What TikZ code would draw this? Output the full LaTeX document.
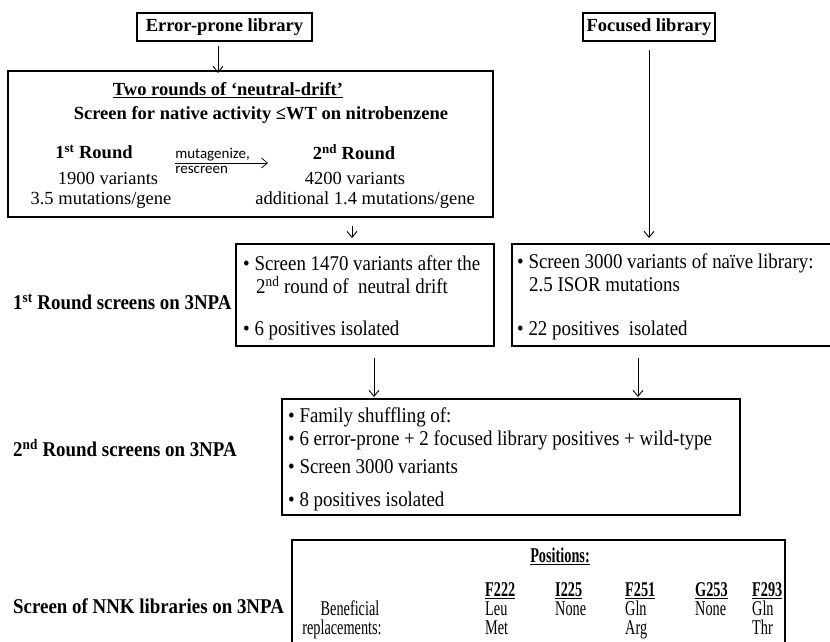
\documentclass[tikz,border=0pt]{standalone}
\usepackage{fontspec}
\setmainfont{Liberation Serif}
\newfontfamily\narrowfont{Liberation Serif}[FakeStretch=0.9]
\newfontfamily\tightfont{Liberation Serif}[FakeStretch=0.68]
\newfontfamily\calfont{Carlito}
\usetikzlibrary{arrows.meta}

\begin{document}
\begin{tikzpicture}[x=1pt,y=-1pt]
    \tikzset{
      box/.style={draw,line width=1.6pt,inner sep=0pt,outer sep=0pt},
      txt/.style={inner sep=0pt,font=\fontsize{18.5}{21}\selectfont},
      btxt/.style={inner sep=0pt,font=\fontsize{18.5}{21}\selectfont\bfseries},
      ntxt/.style={inner sep=0pt,anchor=west,font=\narrowfont\fontsize{21}{24}\selectfont},
      nbtxt/.style={inner sep=0pt,anchor=west,font=\narrowfont\fontsize{21}{24}\selectfont\bfseries},
      ttxt/.style={inner sep=0pt,anchor=west,text height=10pt,text depth=3pt,font=\tightfont\fontsize{21}{22}\selectfont},
      tbtxt/.style={inner sep=0pt,anchor=west,text height=12pt,text depth=3pt,font=\tightfont\fontsize{21}{22}\selectfont\bfseries},
      arr/.style={-{Straight Barb[length=6pt,width=10pt]},line width=0.9pt}
    }
    \useasboundingbox (0,0) rectangle (830,642);
    \clip (0,0) rectangle (830,642);

        %LIBRARIES
        \node[box,btxt,minimum width=175pt,minimum height=28pt] (ep) at (224.5,27) {Error-prone library};
        \node[box,btxt,minimum width=132pt,minimum height=28pt] (fl) at (649,27) {Focused library};

        %NEUTRAL DRIFT
        \node[box,minimum width=485pt,minimum height=146pt] (drift) at (250.5,144) {};
        \node[btxt] (title) at (228,90) {\underline{Two rounds of ‘neutral-drift’}};
        \node[btxt] (scr) at (261,115) {Screen for native activity ≤WT on nitrobenzene};
        \node[btxt] (r1) at (94,152) {1\textsuperscript{st} Round};
        \node[txt] (v1) at (108,178) {1900 variants};
        \node[txt] (m1) at (101,200) {3.5 mutations/gene};
        \node[btxt] (r2) at (354,152) {2\textsuperscript{nd} Round};
        \node[txt] (v2) at (355,178) {4200 variants};
        \node[txt] (m2) at (365,200) {additional 1.4 mutations/gene};
        \coordinate (mstart) at (175,163);
        \coordinate (mend) at (268,163);
        \draw[arr,line width=0.7pt] (mstart) -- (mend)
          node[pos=0,anchor=south west,inner xsep=0pt,inner ysep=1.5pt,font=\calfont\fontsize{15}{17}\selectfont] (mut) {mutagenize,}
          node[pos=0,anchor=north west,inner xsep=0pt,inner ysep=2.5pt,font=\calfont\fontsize{15}{17}\selectfont] (resc) {rescreen};

        %FIRST ROUND
        \node[nbtxt] (lab1) at (13,302) {1\textsuperscript{st} Round screens on 3NPA};
        \node[box,minimum width=258pt,minimum height=102pt] (s1) at (365,295) {};
        \node[ntxt] (s1a) at (243,263) {• Screen 1470 variants after the};
        \node[ntxt] (s1b) at (256,285) {2\textsuperscript{nd} round of\ \ neutral drift};
        \node[ntxt] (s1c) at (243,330) {• 6 positives isolated};
        \node[box,minimum width=330pt,minimum height=102pt] (s2) at (677,295) {};
        \node[ntxt] (s2a) at (517,263) {• Screen 3000 variants of naïve library:};
        \node[ntxt] (s2b) at (529,285) {2.5 ISOR mutations};
        \node[ntxt] (s2c) at (517,330) {• 22 positives\ \ isolated};

        %SECOND ROUND
        \node[nbtxt] (lab2) at (13,448) {2\textsuperscript{nd} Round screens on 3NPA};
        \node[box,minimum width=458pt,minimum height=116pt] (fam) at (511,457) {};
        \node[ntxt] (fa) at (288,417) {• Family shuffling\ of:};
        \node[ntxt] (fb) at (288,440) {• 6 error-prone + 2 focused\ library positives + wild-type};
        \node[ntxt] (fc) at (288,467) {• Screen 3000 variants};
        \node[ntxt] (fd) at (288,501) {• 8 positives\ isolated};

        %NNK
        \node[nbtxt] (lab3) at (13,606) {Screen of NNK libraries on 3NPA};
        \node[box,minimum width=493pt,minimum height=130pt] (nnk) at (538.5,605) {};
        \node[tbtxt,anchor=center] (pos) at (560,558) {\underline{Positions:}};
        \node[ttxt,anchor=center] (ben) at (350,612) {Beneficial};
        \node[ttxt,anchor=center] (rep) at (342,631) {replacements:};
        \node[tbtxt] (c1) at (485,592) {\underline{F222}};
        \node[tbtxt] (c2) at (555,592) {\underline{I225}};
        \node[tbtxt] (c3) at (625,592) {\underline{F251}};
        \node[tbtxt] (c4) at (695,592) {\underline{G253}};
        \node[tbtxt] (c5) at (752,592) {\underline{F293}};
        \node[ttxt] (e1) at (485,612) {Leu};
        \node[ttxt] (e2) at (485,631) {Met};
        \node[ttxt] (e3) at (555,612) {None};
        \node[ttxt] (e4) at (625,612) {Gln};
        \node[ttxt] (e5) at (625,631) {Arg};
        \node[ttxt] (e6) at (695,612) {None};
        \node[ttxt] (e7) at (752,612) {Gln};
        \node[ttxt] (e8) at (752,631) {Thr};

        %ARROWS
        \coordinate (a1) at ([xshift=-6.5pt]ep.south);
        \draw[arr] ([yshift=-5pt]a1) -- ([yshift=-2pt]a1 |- drift.north);
        \coordinate (a2) at ([xshift=-13pt]s1.north);
        \draw[arr] ([yshift=-9pt]a2 |- drift.south) -- ([yshift=6pt]a2);
        \draw[arr] ([yshift=-9pt]fl.south) -- ([yshift=6pt]fl.south |- s2.north);
        \coordinate (a3) at ([xshift=9pt]s1.south);
        \draw[arr] ([yshift=-12pt]a3) -- ([yshift=2pt]a3 |- fam.north);
        \coordinate (a4) at (638,346);
        \draw[arr] ([yshift=-12pt]a4) -- ([yshift=2pt]a4 |- fam.north);
    \end{tikzpicture}
\end{document}
